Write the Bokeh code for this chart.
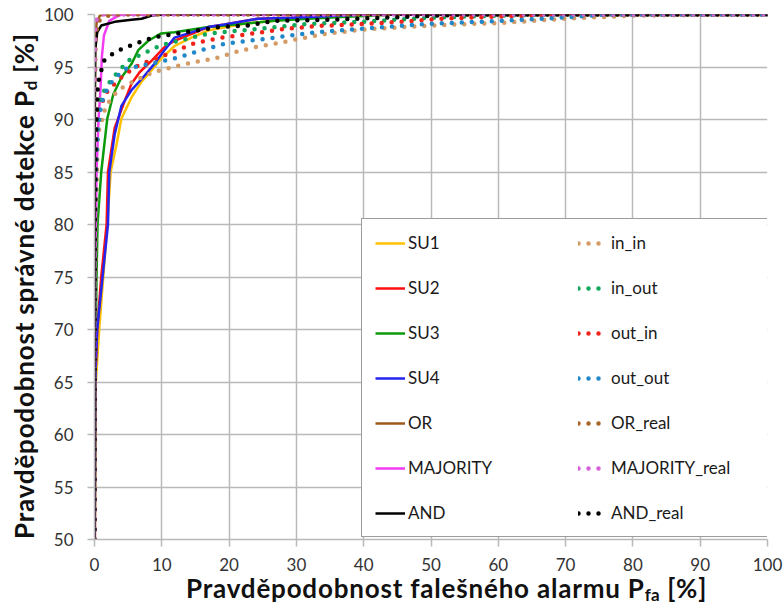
from bokeh.plotting import figure
from bokeh.models import Range1d, FixedTicker, Legend, LegendItem, Div
from bokeh.layouts import row, column
from bokeh.embed import file_html
from bokeh.resources import INLINE

# ---------------- data (Pfa [%], Pd [%]) ----------------
su1_x = [0.05, 0.2, 0.7, 1.3, 1.9, 2.4, 3.3, 4.0, 5.5, 7.0, 8.5, 9.9, 11.9, 14.4, 17, 22, 28, 35, 45, 100]
su1_y = [50, 65, 70, 75, 80, 85, 87.7, 90.1, 92.1, 93.6, 94.7, 95.8, 97.0, 97.8, 98.5, 99.1, 99.5, 99.8, 100, 100]

su2_x = [0.05, 0.1, 0.4, 1.0, 1.8, 2.0, 3.0, 4.5, 5.5, 6.7, 8.5, 10.4, 11.9, 16.9, 19.3, 24.3, 29.2, 40, 100]
su2_y = [50, 65, 70, 75, 80, 85, 89.2, 91.8, 93.4, 94.5, 95.6, 96.9, 97.5, 98.8, 99.05, 99.6, 99.7, 100, 100]

su3_x = [0.03, 0.1, 0.2, 0.3, 0.45, 1.0, 1.9, 2.8, 4.0, 5.5, 6.5, 8.0, 9.9, 11.9, 16.9, 21.8, 26.8, 31.7, 36.7, 45, 100]
su3_y = [50, 65, 70, 75, 80, 85, 90.1, 92.4, 94.0, 95.3, 96.6, 97.5, 98.2, 98.3, 98.8, 99.1, 99.4, 99.6, 99.75, 100, 100]

su4_x = [0.05, 0.1, 0.4, 1.2, 2.0, 2.2, 3.0, 4.0, 5.5, 7.2, 8.9, 10.4, 11.9, 16.9, 19.3, 24.3, 29.2, 40, 100]
su4_y = [50, 65, 70, 75, 80, 85, 88.6, 91.3, 92.8, 94.0, 95.3, 96.6, 97.8, 98.8, 99.05, 99.6, 99.7, 100, 100]

or_x = [0, 0.05, 0.1, 0.3, 0.8, 1.5, 100]
or_y = [50, 90, 97, 99.2, 99.9, 100, 100]

maj_x = [0, 0.1, 0.3, 0.6, 0.9, 1.1, 1.4, 2.2, 3.3, 4, 100]
maj_y = [50, 75, 85, 90, 93, 96, 98, 99.4, 99.8, 100, 100]

and_x = [0, 0.02, 0.05, 0.1, 0.4, 1.0, 3.0, 5.5, 7.0, 8.5, 10, 100]
and_y = [50, 80, 92, 96.6, 98.3, 98.95, 99.3, 99.5, 99.6, 99.9, 100, 100]

inin_x = [0, 0.05, 0.2, 0.5, 1.7, 3.5, 6, 8.7, 13.5, 17.8, 20.8, 24, 27.5, 30.5, 34.7, 40.6, 51.5, 60.4, 65.3, 70, 80, 100]
inin_y = [50, 70, 80, 88.6, 91.3, 92.8, 93.7, 94.5, 95.3, 95.8, 96.4, 96.9, 97.3, 97.7, 98.2, 98.6, 99.0, 99.2, 99.4, 99.6, 99.9, 100]

inout_x = [0, 0.05, 0.2, 0.4, 1.0, 2.5, 5, 10, 17, 24, 31.7, 39.6, 50, 60, 70, 100]
inout_y = [50, 75, 85, 90, 92.3, 93.8, 95.6, 97.1, 98.2, 98.6, 99.1, 99.3, 99.7, 99.9, 100, 100]

outin_x = [0, 0.05, 0.2, 0.5, 2.0, 4.0, 6.0, 8.5, 10.4, 15, 19, 22.5, 28, 33, 40, 45.5, 51.5, 60, 70, 100]
outin_y = [50, 75, 85, 90.8, 92.8, 94.0, 95.0, 95.7, 96.1, 97.3, 97.8, 98.1, 98.6, 98.9, 99.1, 99.3, 99.6, 99.8, 100, 100]

outout_x = [0, 0.05, 0.2, 0.5, 1.0, 2.0, 3.0, 4.5, 6.0, 9.0, 12.4, 15.9, 19.3, 26.8, 32.7, 38.6, 49.5, 60.4, 69.3, 76, 100]
outout_y = [50, 75, 85, 89, 91.5, 93.1, 93.9, 94.8, 95.0, 95.4, 95.9, 96.6, 97.2, 97.8, 98.3, 98.6, 99.1, 99.4, 99.7, 100, 100]

orr_x = [0, 0.05, 0.15, 0.5, 1.5, 3, 100]
orr_y = [50, 90, 97.5, 99.3, 99.8, 100, 100]

majr_x = [0, 0.03, 0.1, 0.5, 1, 100]
majr_y = [50, 95, 99.2, 99.8, 100, 100]

andr_x = [0, 0.05, 0.2, 0.3, 0.4, 0.5, 1.1, 1.5, 2.8, 4.3, 6.0, 7.7, 9.4, 10.4, 14.4, 18.4, 22.8, 26.8, 34.6, 45, 55, 100]
andr_y = [50, 80, 88, 90, 91.8, 93.4, 94.9, 95.7, 96.3, 96.8, 97.2, 97.6, 97.9, 98.0, 98.4, 98.8, 98.95, 99.4, 99.5, 99.75, 100, 100]

solid_names = ["SU1", "SU2", "SU3", "SU4", "OR", "MAJORITY", "AND"]
dotted_names = ["in_in", "in_out", "out_in", "out_out", "OR_real", "MAJORITY_real", "AND_real"]
x_ticks = [0, 10, 20, 30, 40, 50, 60, 70, 80, 90, 100]
y_ticks = [50, 55, 60, 65, 70, 75, 80, 85, 90, 95, 100]
x_title = "Pravděpodobnost falešného alarmu P"
x_title_sub = "fa"
y_title = "Pravděpodobnost správné detekce P"
y_title_sub = "d"
title_unit = "[%]"

solid_series = [(su1_x, su1_y), (su2_x, su2_y), (su3_x, su3_y), (su4_x, su4_y),
                (or_x, or_y), (maj_x, maj_y), (and_x, and_y)]
dotted_series = [(inin_x, inin_y), (inout_x, inout_y), (outin_x, outin_y), (outout_x, outout_y),
                 (orr_x, orr_y), (majr_x, majr_y), (andr_x, andr_y)]

solid_colors = ["#FFC000", "#FF1010", "#0C9A0C", "#2424F0", "#9C5A1C", "#F23CF2", "#000000"]
dotted_colors = ["#D39B65", "#10A85A", "#F0231B", "#2088C8", "#A8652A", "#D95ED9", "#000000"]

FONT = "Lato"
GRID = "#B9B9B9"

p = figure(width=743, height=578, output_backend="svg", toolbar_location=None,
           x_range=Range1d(0, 100), y_range=Range1d(50, 100),
           min_border_left=53, min_border_right=16, min_border_top=14, min_border_bottom=39)
p.outline_line_color = None
p.background_fill_color = "white"
p.border_fill_color = "white"

for ax, ticks in ((p.xaxis[0], x_ticks), (p.yaxis[0], y_ticks)):
    ax.ticker = FixedTicker(ticks=ticks)
    ax.minor_tick_line_color = None
    ax.major_tick_in = 0
    ax.major_tick_out = 7
    ax.major_tick_line_color = GRID
    ax.major_tick_line_width = 1.5
    ax.axis_line_color = GRID
    ax.axis_line_width = 1.5
    ax.major_label_text_font = FONT
    ax.major_label_text_font_size = "17px"
    ax.major_label_text_color = "#333333"
p.xaxis.major_label_standoff = 11
p.yaxis.major_label_standoff = 14

p.xgrid.ticker = FixedTicker(ticks=x_ticks)
p.ygrid.ticker = FixedTicker(ticks=y_ticks)
p.grid.grid_line_color = GRID
p.grid.grid_line_width = 1.5

solid_r = []
for (xs, ys), c in zip(solid_series, solid_colors):
    solid_r.append(p.line(xs, ys, line_color=c, line_width=2.5))
dotted_r = []
for (xs, ys), c in zip(dotted_series, dotted_colors):
    dotted_r.append(p.line(xs, ys, line_color=c, line_width=4.5, line_dash="0 10", line_cap="round"))

items = [LegendItem(label=n, renderers=[r]) for n, r in zip(solid_names, solid_r)]
items += [LegendItem(label=n, renderers=[r]) for n, r in zip(dotted_names, dotted_r)]

legend = Legend(items=items, location=(267, 2), ncols=2, orientation="vertical",
                label_text_font=FONT, label_text_font_size="17px", label_text_color="#1A1A1A",
                glyph_width=30, glyph_height=20, label_height=20, label_width=146,
                label_standoff=3, spacing=24, padding=13, margin=0,
                border_line_color="#3A3A3A", border_line_width=1,
                background_fill_color="white", background_fill_alpha=1.0)
p.add_layout(legend, "center")

# axis titles with subscripts, as HTML text beside the figure
title_css = ("position:absolute;white-space:nowrap;font-family:Lato;font-weight:bold;"
             "font-size:26px;letter-spacing:0.8px;line-height:1;color:#111111;")
sub_css = "font-size:17px;letter-spacing:0.3px;vertical-align:-3px;"

y_html = ('<div style="position:relative;width:40px;height:578px;">'
          f'<div style="{title_css}left:11px;top:539px;transform-origin:0 0;transform:rotate(-90deg);">'
          f'{y_title}<span style="{sub_css}">{y_title_sub}</span> {title_unit}</div></div>')
x_html = ('<div style="position:relative;width:783px;height:26px;">'
          f'<div style="{title_css}left:186px;top:-3px;">'
          f'{x_title}<span style="{sub_css}">{x_title_sub}</span> {title_unit}</div></div>')

y_div = Div(text=y_html, width=40, height=578, margin=0, styles={"overflow": "visible"})
x_div = Div(text=x_html, width=783, height=26, margin=0, styles={"overflow": "visible"})

layout = column(row(y_div, p, spacing=0), x_div, spacing=0)

open("out.html", "w").write(file_html(layout, INLINE))
